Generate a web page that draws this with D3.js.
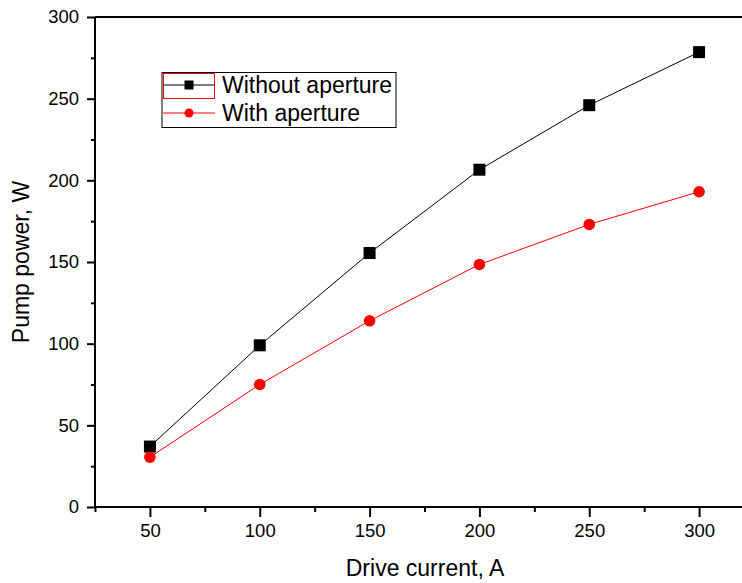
<!DOCTYPE html>
<html>
<head>
<meta charset="utf-8">
<script src="https://cdnjs.cloudflare.com/ajax/libs/d3/7.8.5/d3.min.js"></script>
<style>
  html, body { margin: 0; padding: 0; background: #fff; }
  svg { display: block; }
  text { font-family: "Liberation Sans", Arial, sans-serif; fill: #000; }
</style>
</head>
<body>
<svg id="chart" width="742" height="583"></svg>
<script>
// Drive current (A) on x; pump power (W) on y
const current = [50, 100, 150, 200, 250, 300];
const withoutAperture = [37, 99, 155.5, 206.5, 246, 278.5];
const withAperture = [30.5, 75, 114, 148.5, 173, 193];
const xTicks = [50, 100, 150, 200, 250, 300];
const xMinorTicks = [25, 75, 125, 175, 225, 275];
const yTicks = [0, 50, 100, 150, 200, 250, 300];
const yMinorTicks = [25, 75, 125, 175, 225, 275];
const seriesNames = ["Without aperture", "With aperture"];

const svg = d3.select("#chart");
const plotLeft = 95, plotTop = 17, plotBottom = 507, plotRight = 754;

const x = d3.scaleLinear().domain([25, 325]).range([plotLeft, plotRight]);
const y = d3.scaleLinear().domain([0, 300]).range([plotBottom, plotTop]);

// top frame line
svg.append("line")
  .attr("x1", plotLeft).attr("x2", plotRight)
  .attr("y1", plotTop).attr("y2", plotTop)
  .attr("stroke", "#000").attr("stroke-width", 2);

// x axis: major and minor ticks
const xAxis = svg.append("g").attr("transform", `translate(0,${plotBottom})`)
  .call(d3.axisBottom(x).tickValues(xTicks).tickSize(10).tickPadding(7).tickFormat(d3.format("d")));
svg.append("g").attr("transform", `translate(0,${plotBottom})`)
  .call(d3.axisBottom(x).tickValues(xMinorTicks).tickSize(5).tickFormat(""))
  .call(g => g.select(".domain").remove());

// y axis: major and minor ticks
const yAxis = svg.append("g").attr("transform", `translate(${plotLeft},0)`)
  .call(d3.axisLeft(y).tickValues(yTicks).tickSize(8).tickPadding(8).tickFormat(d3.format("d")));
svg.append("g").attr("transform", `translate(${plotLeft},0)`)
  .call(d3.axisLeft(y).tickValues(yMinorTicks).tickSize(4).tickFormat(""))
  .call(g => g.select(".domain").remove());

svg.selectAll(".domain").attr("stroke", "#000").attr("stroke-width", 2);
svg.selectAll(".tick line").attr("stroke", "#000").attr("stroke-width", 2);
svg.selectAll(".tick text").attr("font-size", 18.5).attr("font-family", "Liberation Sans, Arial, sans-serif").attr("fill", "#000");
xAxis.selectAll(".domain").attr("d", `M${plotLeft},0H${plotRight}`);
yAxis.selectAll(".domain").attr("d", `M0,${plotBottom}V${plotTop}`);

// axis titles
svg.append("text")
  .attr("x", 425).attr("y", 576)
  .attr("text-anchor", "middle").attr("font-size", 23)
  .text("Drive current, A");
svg.append("text")
  .attr("transform", `translate(29,${(plotTop + plotBottom) / 2}) rotate(-90)`)
  .attr("text-anchor", "middle").attr("font-size", 23)
  .text("Pump power, W");

const line = d3.line().x((d, i) => x(current[i])).y(d => y(d));

// Series: without aperture (black squares)
svg.append("path").datum(withoutAperture)
  .attr("d", line).attr("fill", "none").attr("stroke", "#000").attr("stroke-width", 1);
svg.selectAll(".sq").data(withoutAperture).enter().append("rect")
  .attr("x", (d, i) => x(current[i]) - 6).attr("y", d => y(d) - 6)
  .attr("width", 12).attr("height", 12).attr("fill", "#000");

// Series: with aperture (red circles)
svg.append("path").datum(withAperture)
  .attr("d", line).attr("fill", "none").attr("stroke", "#ff0000").attr("stroke-width", 1);
svg.selectAll(".dot").data(withAperture).enter().append("circle")
  .attr("cx", (d, i) => x(current[i])).attr("cy", d => y(d))
  .attr("r", 5.8).attr("fill", "#ff0000");

// Legend
const lg = svg.append("g");
lg.append("rect").attr("x", 162).attr("y", 72.5).attr("width", 234).attr("height", 55)
  .attr("fill", "#fff").attr("stroke", "#000").attr("stroke-width", 1);
lg.append("rect").attr("x", 163.5).attr("y", 73.5).attr("width", 51).attr("height", 25)
  .attr("fill", "none").attr("stroke", "#ff0000").attr("stroke-width", 1);
const rows = [85, 113];
lg.append("line").attr("x1", 163).attr("x2", 215).attr("y1", rows[0]).attr("y2", rows[0])
  .attr("stroke", "#000").attr("stroke-width", 1);
lg.append("rect").attr("x", 189 - 4.5).attr("y", rows[0] - 4.5).attr("width", 9).attr("height", 9).attr("fill", "#000");
lg.append("line").attr("x1", 163).attr("x2", 215).attr("y1", rows[1]).attr("y2", rows[1])
  .attr("stroke", "#ff0000").attr("stroke-width", 1);
lg.append("circle").attr("cx", 189).attr("cy", rows[1]).attr("r", 4.5).attr("fill", "#ff0000");
lg.selectAll(".lt").data(seriesNames).enter().append("text")
  .attr("x", 222).attr("y", (d, i) => rows[i] + 8)
  .attr("font-size", 23).text(d => d);
</script>
</body>
</html>
